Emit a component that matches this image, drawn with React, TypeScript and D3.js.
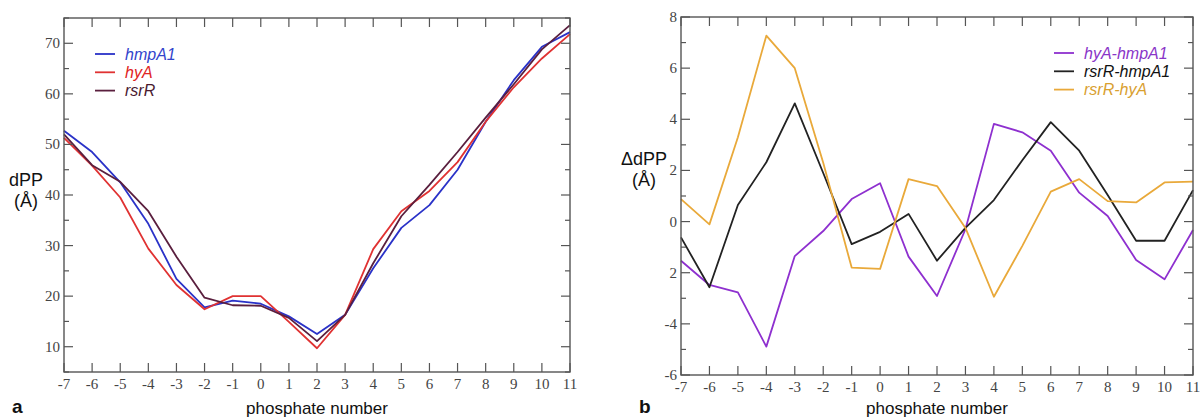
import React from 'react';
import * as d3 from 'd3';

// phosphate positions shared by both panels
const phosphates = [-7, -6, -5, -4, -3, -2, -1, 0, 1, 2, 3, 4, 5, 6, 7, 8, 9, 10, 11];

// panel a: dPP (Å)
const hmpA1 = [52.7, 48.5, 42.5, 34.3, 23.4, 17.8, 19.1, 18.5, 16.0, 12.5, 16.3, 25.5, 33.5, 38.0, 45.0, 54.5, 62.7, 69.3, 72.2];
const hyA = [51.3, 45.8, 39.5, 29.4, 22.2, 17.4, 20.0, 20.0, 14.9, 9.7, 16.3, 29.3, 36.8, 40.8, 46.5, 54.5, 61.3, 67.0, 71.8];
const rsrR = [52.0, 45.9, 42.6, 36.8, 27.8, 19.7, 18.2, 18.1, 15.7, 11.1, 16.3, 26.5, 35.8, 42.0, 48.5, 55.3, 61.9, 68.8, 73.6];

// panel b: ΔdPP (Å)
const hyAminusHmpA1 = [-1.53, -2.48, -2.77, -4.89, -1.35, -0.37, 0.88, 1.5, -1.37, -2.91, -0.3, 3.82, 3.49, 2.77, 1.13, 0.22, -1.5, -2.26, -0.33];
const rsrRminusHmpA1 = [-0.62, -2.57, 0.65, 2.32, 4.62, 1.9, -0.88, -0.4, 0.3, -1.53, -0.25, 0.84, 2.4, 3.89, 2.77, 1.04, -0.75, -0.75, 1.23];
const rsrRminusHyA = [0.88, -0.11, 3.3, 7.27, 6.0, 2.3, -1.8, -1.85, 1.66, 1.39, -0.25, -2.94, -0.95, 1.17, 1.66, 0.8, 0.75, 1.53, 1.56];

const leftYTicks = [10, 20, 30, 40, 50, 60, 70];
const leftYMinor = [5, 15, 25, 35, 45, 55, 65, 75];
const rightYTicks = [-6, -4, -2, 0, 2, 4, 6, 8];
const rightYTickLabels = ['-6', '-4', '2', '0', '2', '4', '6', '8'];
const rightYMinor = [-5, -3, -1, 1, 3, 5, 7];

const serif = '"Liberation Serif", "DejaVu Serif", serif';
const sans = '"Liberation Sans", Arial, sans-serif';
const axisColor = '#555';

type Series = { name: string; values: number[]; color: string; textColor: string };

function Panel(props: {
  x0: number; x1: number; y0: number; y1: number;
  yDomain: [number, number];
  yTicks: number[]; yLabels: string[]; yMinor: number[];
  series: Series[];
  legendX: number; legendY: number;
  yTitle: string[]; yTitleX: number; yTitleY: number;
  letter: string; letterX: number;
}) {
  const x = d3.scaleLinear().domain([-7, 11]).range([props.x0, props.x1]);
  const y = d3.scaleLinear().domain(props.yDomain).range([props.y1, props.y0]);
  const line = d3.line<number>()
    .x((_, i) => x(phosphates[i]))
    .y(d => y(d));

  return (
    <g>
      {props.series.map(s => (
        <path key={s.name} d={line(s.values) || ''} fill="none" stroke={s.color} strokeWidth={1.8} strokeLinejoin="round" />
      ))}
      <rect x={props.x0} y={props.y0} width={props.x1 - props.x0} height={props.y1 - props.y0}
        fill="none" stroke={axisColor} strokeWidth={1.4} />
      {phosphates.map(p => (
        <g key={'xt' + p}>
          <line x1={x(p)} x2={x(p)} y1={props.y1} y2={props.y1 - 9} stroke={axisColor} strokeWidth={1.2} />
          <line x1={x(p)} x2={x(p)} y1={props.y0} y2={props.y0 + 9} stroke={axisColor} strokeWidth={1.2} />
          <text x={x(p)} y={props.y1 + 17} textAnchor="middle" fontFamily={serif} fontSize={15} fill="#444">{p}</text>
        </g>
      ))}
      {props.yTicks.map((t, i) => (
        <g key={'yt' + t}>
          <line x1={props.x0} x2={props.x0 + 9} y1={y(t)} y2={y(t)} stroke={axisColor} strokeWidth={1.2} />
          <line x1={props.x1} x2={props.x1 - 9} y1={y(t)} y2={y(t)} stroke={axisColor} strokeWidth={1.2} />
          <text x={props.x0 - 4} y={y(t) + 5} textAnchor="end" fontFamily={serif} fontSize={15} fill="#444">{props.yLabels[i]}</text>
        </g>
      ))}
      {props.yMinor.map(t => (
        <g key={'ym' + t}>
          <line x1={props.x0} x2={props.x0 + 5} y1={y(t)} y2={y(t)} stroke={axisColor} strokeWidth={1.2} />
          <line x1={props.x1} x2={props.x1 - 5} y1={y(t)} y2={y(t)} stroke={axisColor} strokeWidth={1.2} />
        </g>
      ))}
      {props.series.map((s, i) => (
        <g key={'lg' + s.name}>
          <line x1={props.legendX} x2={props.legendX + 20} y1={props.legendY + i * 18.3} y2={props.legendY + i * 18.3}
            stroke={s.color} strokeWidth={1.8} />
          <text x={props.legendX + 30} y={props.legendY + i * 18.3 + 5.5} fontFamily={sans} fontStyle="italic"
            fontSize={16} fill={s.textColor}>{s.name}</text>
        </g>
      ))}
      {props.yTitle.map((t, i) => (
        <text key={'ytl' + i} x={props.yTitleX} y={props.yTitleY + i * 21} textAnchor="middle"
          fontFamily={sans} fontSize={18} fill="#111">{t}</text>
      ))}
      <text x={(props.x0 + props.x1) / 2} y={414} textAnchor="middle" fontFamily={sans} fontSize={17} fill="#111">phosphate number</text>
      <text x={props.letterX} y={413} fontFamily={sans} fontWeight="bold" fontSize={19} fill="#111">{props.letter}</text>
    </g>
  );
}

export default function App() {
  const leftSeries: Series[] = [
    { name: 'hmpA1', values: hmpA1, color: '#2a32c8', textColor: '#3344cc' },
    { name: 'hyA', values: hyA, color: '#e03232', textColor: '#e02424' },
    { name: 'rsrR', values: rsrR, color: '#5a1f3e', textColor: '#4a1a30' },
  ];
  const rightSeries: Series[] = [
    { name: 'hyA-hmpA1', values: hyAminusHmpA1, color: '#8e30cf', textColor: '#8a35c8' },
    { name: 'rsrR-hmpA1', values: rsrRminusHmpA1, color: '#222222', textColor: '#111111' },
    { name: 'rsrR-hyA', values: rsrRminusHyA, color: '#e9a93a', textColor: '#d9a030' },
  ];
  return (
    <div style={{ position: 'absolute', left: 0, top: 0 }}>
      <svg width={1201} height={417} style={{ display: 'block', background: '#fff' }}>
        <Panel x0={64} x1={570} y0={18} y1={372} yDomain={[5, 75]}
          yTicks={leftYTicks} yLabels={leftYTicks.map(String)} yMinor={leftYMinor}
          series={leftSeries} legendX={95} legendY={54}
          yTitle={['dPP', '(Å)']} yTitleX={26} yTitleY={186} letter="a" letterX={12} />
        <Panel x0={681} x1={1193} y0={17} y1={375} yDomain={[-6, 8]}
          yTicks={rightYTicks} yLabels={rightYTickLabels} yMinor={rightYMinor}
          series={rightSeries} legendX={1054} legendY={53}
          yTitle={['ΔdPP', '(Å)']} yTitleX={644} yTitleY={165} letter="b" letterX={639} />
      </svg>
    </div>
  );
}
